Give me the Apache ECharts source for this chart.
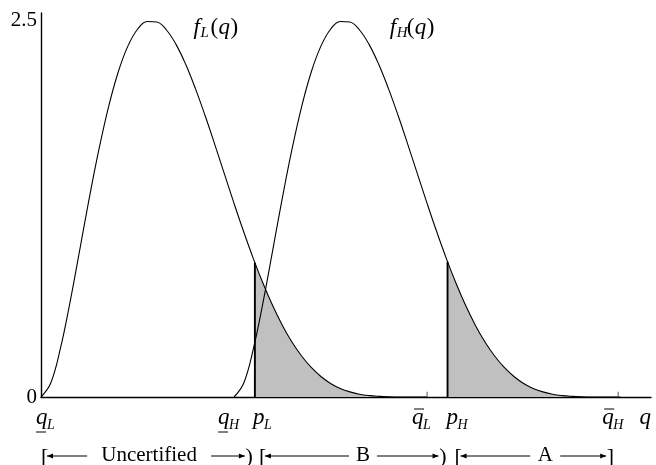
<!DOCTYPE html>
<html>
<head>
<meta charset="utf-8">
<script src="https://cdn.jsdelivr.net/npm/echarts@6/dist/echarts.min.js"></script>
<style>
  html, body { margin: 0; padding: 0; background: #fff; }
  #chart { width: 656px; height: 465px; }
</style>
</head>
<body>
<div id="chart"></div>
<script>
// quality grid for the low type, q_L .. qbar_L
const qLGrid = [0, 0.025, 0.05, 0.075, 0.1, 0.125, 0.15, 0.175, 0.2, 0.225,
  0.25, 0.275, 0.3, 0.325, 0.35, 0.375, 0.4, 0.425, 0.45, 0.475,
  0.5, 0.525, 0.55, 0.575, 0.6, 0.625, 0.65, 0.675, 0.7, 0.725,
  0.75, 0.775, 0.8, 0.825, 0.85, 0.875, 0.9, 0.925, 0.95, 0.975, 1.0];
const fLValues = [0, 0.091, 0.319, 0.627, 0.972, 1.320, 1.644, 1.927, 2.158, 2.330,
  2.442, 2.494, 2.490, 2.437, 2.340, 2.208, 2.048, 1.869, 1.678, 1.482,
  1.286, 1.097, 0.919, 0.755, 0.607, 0.477, 0.365, 0.272, 0.196, 0.136,
  0.090, 0.057, 0.034, 0.018, 0.009, 0.004, 0.001, 0.0003, 0, 0, 0];

// quality grid for the high type, q_H .. qbar_H
const qHGrid = [0.5, 0.525, 0.55, 0.575, 0.6, 0.625, 0.65, 0.675, 0.7, 0.725,
  0.75, 0.775, 0.8, 0.825, 0.85, 0.875, 0.9, 0.925, 0.95, 0.975,
  1.0, 1.025, 1.05, 1.075, 1.1, 1.125, 1.15, 1.175, 1.2, 1.225,
  1.25, 1.275, 1.3, 1.325, 1.35, 1.375, 1.4, 1.425, 1.45, 1.475, 1.5];
const fHValues = [0, 0.091, 0.319, 0.627, 0.972, 1.320, 1.644, 1.927, 2.158, 2.330,
  2.442, 2.494, 2.490, 2.437, 2.340, 2.208, 2.048, 1.869, 1.678, 1.482,
  1.286, 1.097, 0.919, 0.755, 0.607, 0.477, 0.365, 0.272, 0.196, 0.136,
  0.090, 0.057, 0.034, 0.018, 0.009, 0.004, 0.001, 0.0003, 0, 0, 0];

// cut-off prices and the density height there
const pL = 0.554, pLTop = 0.892;
const pH = 1.053, pHTop = 0.898;

// support end points
const qLow = 0, qHLow = 0.5, qLBar = 1.0, qHBar = 1.495;
const yTickValues = [0, 2.5];
const tickHeight = 0.035;

const serif = 'Liberation Serif';

function pairs(xs, ys) {
  return xs.map((x, i) => [x, ys[i]]);
}
// shaded tail right of the price
function tail(xs, ys, p, top) {
  return [[p, top]].concat(pairs(xs, ys).filter(d => d[0] > p));
}

const chart = echarts.init(document.getElementById('chart'));

const curve = {
  type: 'line',
  smooth: 0.4,
  showSymbol: false,
  symbol: 'none',
  silent: true,
  lineStyle: { color: '#000', width: 1.1 },
  z: 3
};
const shade = {
  type: 'line',
  smooth: 0.4,
  symbol: 'none',
  silent: true,
  lineStyle: { width: 0, opacity: 0 },
  areaStyle: { color: '#c0c0c0', opacity: 1 },
  z: 1
};
const vline = {
  type: 'line',
  symbol: 'none',
  silent: true,
  lineStyle: { color: '#000', width: 1.9 },
  z: 4
};
const tick = {
  type: 'line',
  symbol: 'none',
  silent: true,
  lineStyle: { color: '#555', width: 1 },
  z: 4
};

const option = {
  animation: false,
  backgroundColor: '#fff',
  grid: { left: 41, right: 5, top: 13, bottom: 68 },
  xAxis: {
    type: 'value',
    min: 0,
    max: 1.58,
    axisLine: { show: true, lineStyle: { color: '#000', width: 1.4 } },
    axisTick: { show: false },
    axisLabel: { show: false },
    splitLine: { show: false }
  },
  yAxis: {
    type: 'value',
    min: 0,
    max: 2.55,
    interval: 2.5,
    axisLine: { show: true, lineStyle: { color: '#000', width: 1.4 } },
    axisTick: { show: false },
    splitLine: { show: false },
    axisLabel: {
      margin: 4,
      color: '#000',
      fontFamily: serif,
      fontSize: 21,
      showMaxLabel: false,
      formatter: v => (yTickValues.indexOf(v) >= 0 ? String(v) : '')
    }
  },
  series: [
    Object.assign({}, shade, { data: tail(qLGrid, fLValues, pL, pLTop) }),
    Object.assign({}, shade, { data: tail(qHGrid, fHValues, pH, pHTop) }),
    Object.assign({}, curve, { data: pairs(qLGrid, fLValues) }),
    Object.assign({}, curve, { data: pairs(qHGrid, fHValues) }),
    Object.assign({}, vline, { data: [[pL, 0], [pL, pLTop]] }),
    Object.assign({}, vline, { data: [[pH, 0], [pH, pHTop]] }),
    Object.assign({}, tick, { data: [[qLBar, 0], [qLBar, tickHeight]] }),
    Object.assign({}, tick, { data: [[qHBar, 0], [qHBar, tickHeight]] })
  ]
};
chart.setOption(option);

// ---- annotations drawn in pixels from the axis scale ----
const toPx = (x, y) => chart.convertToPixel({ gridIndex: 0 }, [x, y]);
const base = toPx(0, 0)[1];
const g = [];

function txt(s, x, y, size, italic, align) {
  g.push({
    type: 'text', z: 100, silent: true,
    style: {
      text: s, x: x, y: y,
      fontSize: size, fontFamily: serif,
      fontStyle: italic ? 'italic' : 'normal',
      fill: '#000', align: align || 'left', verticalAlign: 'middle'
    }
  });
}
function hline(x1, x2, y, w) {
  g.push({ type: 'line', z: 100, silent: true,
    shape: { x1: x1, y1: y, x2: x2, y2: y },
    style: { stroke: '#000', lineWidth: w || 1 } });
}
function head(x, y, dir) {
  g.push({ type: 'polygon', z: 100, silent: true,
    shape: { points: [[x, y], [x - 6 * dir, y - 2.6], [x - 6 * dir, y + 2.6]] },
    style: { fill: '#000' } });
}

// curve names
const fLabels = [
  { sub: 'L', x: 0.395, y: 2.45 },
  { sub: 'H', x: 0.903, y: 2.45 }
];
fLabels.forEach(f => {
  const p = toPx(f.x, f.y);
  txt('f', p[0], p[1], 23, true);
  txt(f.sub, p[0] + 7, p[1] + 5, 15, true);
  txt('(', p[0] + 17, p[1], 23, false);
  txt('q', p[0] + 25, p[1], 23, true);
  txt(')', p[0] + 37, p[1], 23, false);
});

// labels under the axis
const axisMarks = [
  { main: 'q', sub: 'L', at: qLow, dx: -5, bar: 'under' },
  { main: 'q', sub: 'H', at: qHLow, dx: -16, bar: 'under' },
  { main: 'p', sub: 'L', at: pL, dx: -2 },
  { main: 'q', sub: 'L', at: qLBar, dx: -15, bar: 'over' },
  { main: 'p', sub: 'H', at: pH, dx: -1 },
  { main: 'q', sub: 'H', at: qHBar, dx: -16, bar: 'over' }
];
const rowY = base + 21;
axisMarks.forEach(m => {
  const x = toPx(m.at, 0)[0] + m.dx;
  txt(m.main, x, rowY, 23, true);
  txt(m.sub, x + 11, rowY + 7, 14, true);
  if (m.bar === 'under') hline(x, x + 10, rowY + 14, 1);
  if (m.bar === 'over') hline(x + 2, x + 12, rowY - 9, 1);
});
txt('q', toPx(1.58, 0)[0], rowY, 23, true, 'right');

// bracketed ranges
const spans = [
  { label: 'Uncertified', from: qLow, to: pL, center: 0.28, halfW: 48, gap: 14, open: 0, close: ')', closeDx: -2 },
  { label: 'B', from: pL, to: pH, center: 0.834, halfW: 6, gap: 8, open: 4, close: ')', closeDx: -1 },
  { label: 'A', from: pH, to: qHBar, center: 1.306, halfW: 8, gap: 7, open: 7, close: ']', closeDx: -4 }
];
const spanY = base + 58;
spans.forEach(s => {
  const x0 = toPx(s.from, 0)[0] + s.open;
  const x1 = toPx(s.to, 0)[0] + s.closeDx;
  const xc = toPx(s.center, 0)[0];
  txt('[', x0, spanY + 2, 22, false);
  txt(s.close, x1, spanY + 2, 22, false, 'right');
  txt(s.label, xc, spanY, 21, false, 'center');
  const ax0 = x0 + 6, ax1 = x1 - 8;
  hline(ax0, xc - s.halfW - s.gap, spanY + 1, 1);
  head(ax0, spanY + 1, -1);
  hline(xc + s.halfW + s.gap, ax1, spanY + 1, 1);
  head(ax1, spanY + 1, 1);
});

chart.setOption({ graphic: g });
</script>
</body>
</html>
